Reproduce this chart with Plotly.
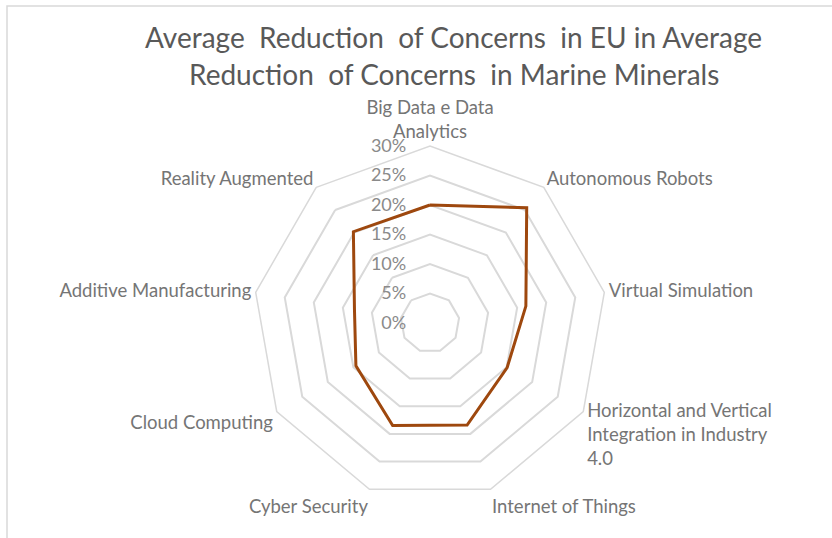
import plotly.graph_objects as go

# Radar chart data: average reduction of concerns per Industry 4.0 technology
categories = [
    "Big Data e Data<br>Analytics",
    "Autonomous Robots",
    "Virtual Simulation",
    "Horizontal and Vertical<br>Integration in Industry<br>4.0",
    "Internet of Things",
    "Cyber Security",
    "Cloud Computing",
    "Additive Manufacturing",
    "Reality Augmented",
]
reduction = [0.200, 0.255, 0.165, 0.151, 0.184, 0.185, 0.145, 0.130, 0.202]

radial_ticks = [0, 0.05, 0.10, 0.15, 0.20, 0.25, 0.30]

title_lines = [
    "Average  Reduction  of Concerns  in EU in Average",
    "Reduction  of Concerns  in Marine Minerals",
]

W, H = 832, 538
cx, cy, R = 430, 323, 177  # polar centre and radius in pixels

FONT = "Lato, 'Open Sans', sans-serif"
GRID = "#d9d9d9"

fig = go.Figure()
fig.add_trace(go.Scatterpolar(
    r=reduction + reduction[:1],
    theta=categories + categories[:1],
    mode="lines",
    line=dict(color="#9e480e", width=3),
    hoverinfo="skip",
    showlegend=False,
))

fig.update_layout(
    width=W, height=H,
    margin=dict(l=0, r=0, t=0, b=0),
    paper_bgcolor="white",
    plot_bgcolor="white",
    font=dict(family=FONT, color="#7a7a7a"),
    polar=dict(
        domain=dict(x=[(cx - R) / W, (cx + R) / W],
                    y=[(H - cy - R) / H, (H - cy + R) / H]),
        gridshape="linear",
        bgcolor="white",
        angularaxis=dict(
            direction="clockwise",
            rotation=90,
            showgrid=False,
            showline=True,
            linecolor=GRID,
            linewidth=1.5,
            ticks="",
            tickfont=dict(size=18.5, color="#757575"),
        ),
        radialaxis=dict(
            range=[0, 0.30],
            tickvals=radial_ticks,
            tickformat=".0%",
            angle=90,
            tickangle=90,
            side="counterclockwise",
            showline=False,
            ticks="outside",
            ticklen=17,
            tickcolor="rgba(0,0,0,0)",
            gridcolor=GRID,
            gridwidth=1.5,
            tickfont=dict(size=18, color="#8a8a8a"),
        ),
    ),
    shapes=[
        dict(type="rect", xref="paper", yref="paper",
             x0=7 / W, x1=1.05, y0=-0.05, y1=1 - 6 / H,
             line=dict(color="#d9d9d9", width=1.5)),
    ],
    annotations=[
        dict(text=title_lines[0], x=454 / W, y=1 - 37 / H, xref="paper", yref="paper",
             showarrow=False, xanchor="center", yanchor="middle",
             font=dict(size=28, color="#595959", family=FONT)),
        dict(text=title_lines[1], x=454 / W, y=1 - 74 / H, xref="paper", yref="paper",
             showarrow=False, xanchor="center", yanchor="middle",
             font=dict(size=28, color="#595959", family=FONT)),
    ],
)

fig.write_html("out.html")
